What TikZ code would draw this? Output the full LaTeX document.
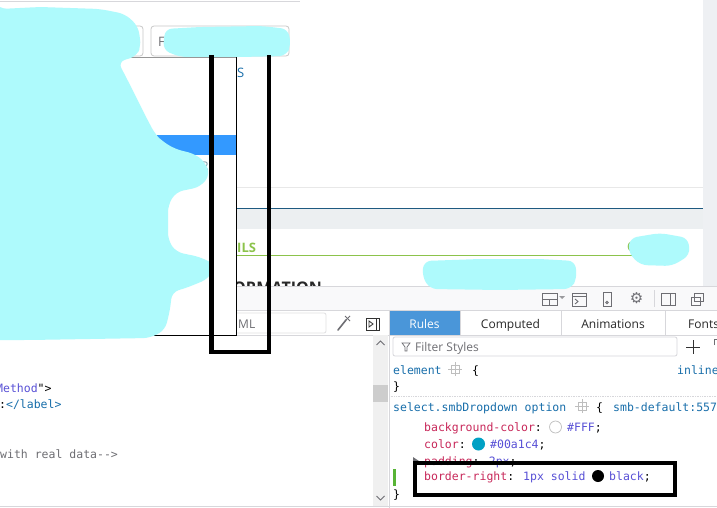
\documentclass[tikz,border=0pt]{standalone}
\usepackage{fontspec}
\setmainfont{Open Sans}
\newfontfamily\codefont{DejaVu Sans Mono}
\newfontfamily\symfont{DejaVu Sans}
\definecolor{cyanblot}{RGB}{174,250,252}
\definecolor{stripgray}{RGB}{238,240,243}
\definecolor{bandgray}{RGB}{236,239,241}
\definecolor{linegray}{RGB}{215,215,219}
\definecolor{faintline}{RGB}{232,232,232}
\definecolor{boxgray}{RGB}{200,200,200}
\definecolor{fieldgray}{RGB}{224,224,226}
\definecolor{listgray}{RGB}{150,150,150}
\definecolor{scrollbg}{RGB}{240,240,240}
\definecolor{thumb}{RGB}{205,205,205}
\definecolor{gearsq}{RGB}{190,190,190}
\definecolor{darkui}{RGB}{50,50,50}
\definecolor{tabtext}{RGB}{40,40,40}
\definecolor{rfaint}{RGB}{120,160,170}
\definecolor{darkblue}{RGB}{30,90,128}
\definecolor{pagegreen}{RGB}{140,195,75}
\definecolor{selblue}{RGB}{51,153,255}
\definecolor{tabblue}{RGB}{74,150,217}
\definecolor{propred}{RGB}{200,40,90}
\definecolor{valpurple}{RGB}{88,80,214}
\definecolor{selcol}{RGB}{24,110,170}
\definecolor{uigray}{RGB}{110,110,115}
\definecolor{toolbg}{RGB}{249,249,250}
\definecolor{swatch}{RGB}{0,161,196}
\definecolor{editgreen}{RGB}{88,180,54}
\tikzset{
  ui/.style={font=\fontsize{12}{14}\selectfont, inner sep=0pt, anchor=base west},
  code/.style={font=\codefont\fontsize{11.5}{13}\selectfont, inner sep=0pt, anchor=base west},
  hl/.style={line width=4.6pt, draw=black},
  icon/.style={draw=uigray, line width=0.9pt},
  blot/.style={fill=cyanblot, draw=none, rounded corners=7pt},
}
\begin{document}
\begin{tikzpicture}[x=1pt,y=-1pt]
\useasboundingbox (0,0) rectangle (717,508);
\fill[white] (0,0) rectangle (717,508);
% ---------- page ----------
\draw[draw=linegray, line width=0.8pt] (0,1) -- (300,1);
\fill[stripgray] (703,0) rectangle (717,286);
\draw[rounded corners=3pt, draw=boxgray, line width=0.8pt] (3,26) rectangle (143,56);
\draw[draw=uigray, line width=0.7pt] (134,42) -- (137,45) -- (140,42);
\draw[rounded corners=3pt, draw=boxgray, line width=0.8pt] (151,26) rectangle (289,56);
\node[ui, text=uigray, font=\fontsize{13}{15}\selectfont] (fchar) at (158,47) {F};
\node[ui, text=selcol, font=\fontsize{13}{15}\selectfont] (schar) at (237,78) {S};
\draw[draw=faintline, line width=0.8pt] (236,187) -- (703,187);
\fill[bandgray] (236,209) rectangle (703,229);
\draw[draw=darkblue, line width=1.2pt] (236,208.5) -- (703,208.5);
\node[ui, text=pagegreen, font=\bfseries\fontsize{13}{15}\selectfont] (ils) at (237,252) {ILS};
\draw[draw=pagegreen, line width=1pt] (236,255) -- (640,255);
\node[ui, text=pagegreen, font=\bfseries\fontsize{13}{15}\selectfont] (gchar) at (627,251) {C};
\node[ui, text=tabtext, font=\bfseries\fontsize{16}{18}\selectfont] (info) at (233,293) {ORMATION};
% ---------- devtools ----------
\fill[toolbg] (0,286) rectangle (717,310);
\draw[draw=linegray, line width=0.8pt] (0,286) -- (717,286);
\fill[white] (0,310) rectangle (717,508);
\draw[draw=linegray, line width=0.8pt] (0,310.5) -- (717,310.5);
\draw[draw=linegray, line width=0.8pt] (0,335) -- (717,335);
% toolbar icons
\draw[icon] (542,293) rectangle (557,305); \draw[icon] (542,299) -- (557,299); \draw[icon] (549.5,299) -- (549.5,305);
\fill[uigray!70] (559,296) -- (565,296) -- (562,299) -- cycle;
\draw[icon] (572,293) rectangle (586,306); \draw[icon] (572,296.5) -- (586,296.5); \draw[icon] (575,299) -- (578,301.5) -- (575,304);
\draw[icon] (603,292) rectangle (611,306); \draw[icon] (607,302.5) circle (1.2pt);
\node[inner sep=0pt, text=uigray, font=\symfont\fontsize{15}{15}\selectfont] (gear) at (636.5,298.5) {⚙};
\draw[draw=linegray, line width=0.8pt] (654,290) -- (654,307);
\draw[icon] (661,293) rectangle (675,305); \draw[icon] (670.5,293) -- (670.5,305);
\draw[icon] (691,297) rectangle (700,305); \draw[icon] (694,293) rectangle (703,301);
% search row
\draw[rounded corners=2pt, draw=fieldgray, line width=0.8pt] (200,313) rectangle (326,333);
\node[ui, text=uigray] (search) at (238,328) {ML};
\draw[draw=uigray, line width=1.6pt, line cap=round] (338,330) -- (346,320);
\draw[draw=uigray, line width=0.8pt] (345,316) -- (350,321); \draw[draw=uigray, line width=0.8pt] (350,316) -- (345,321);
\draw[icon, draw=darkui] (366,318) rectangle (379,330);
\draw[draw=darkui, line width=0.9pt] (376,318) -- (376,330);
\draw[draw=darkui, line width=0.8pt] (369,321) -- (373,324) -- (369,327) -- cycle;
% tabs
\fill[tabblue] (389,311) rectangle (460,335);
\node[ui, text=white, anchor=base] (rules) at (424.5,328) {Rules};
\draw[draw=linegray, line width=0.8pt] (460,311) -- (460,335);
\draw[draw=linegray, line width=0.8pt] (561,311) -- (561,335);
\draw[draw=linegray, line width=0.8pt] (665,311) -- (665,335);
\node[ui, text=tabtext, anchor=base] (computed) at (510.5,328) {Computed};
\node[ui, text=tabtext, anchor=base] (anim) at (613,328) {Animations};
\node[ui, text=tabtext] (fonts) at (688,328) {Fonts};
% splitter & scrollbar
\fill[scrollbg] (373,335) rectangle (388,506);
\fill[thumb] (373,385) rectangle (388,402);
\draw[draw=uigray, line width=0.9pt] (376.5,345) -- (380.5,341) -- (384.5,345);
\draw[draw=uigray, line width=0.9pt] (376.5,496) -- (380.5,500) -- (384.5,496);
\draw[draw=linegray, line width=0.8pt] (389,311) -- (389,508);
% left code
\node[code] (c1) at (-4,392) {\textcolor{valpurple}{Method}\textcolor{black}{">}};
\node[code] (c2) at (-1,408) {\textcolor{black}{:}\textcolor{selcol}{</label>}};
\node[code, text=uigray] (c3) at (0,458) {with real data-->};
% right rules
\draw[rounded corners=2pt, draw=linegray, line width=0.8pt] (393,337) rectangle (677,356);
\draw[draw=uigray, line width=0.7pt] (402,343) -- (410,343) -- (407,347) -- (407,351) -- (405,351) -- (405,347) -- cycle;
\node[ui, text=uigray] (filter) at (415,351.5) {Filter Styles};
\draw[draw=darkui, line width=0.9pt] (686,347) -- (700,347); \draw[draw=darkui, line width=0.9pt] (693,340) -- (693,354);
\draw[draw=uigray, line width=0.8pt] (714,345) -- (714,339) -- (720,339);
\node[code, text=selcol] (el) at (393,374) {element};
\draw[draw=gearsq, line width=0.8pt] (451,365) rectangle (459,373);
\draw[draw=gearsq, line width=0.8pt] (455,362) -- (455,376) (448,369) -- (462,369);
\node[code, text=black] (ob1) at (472,374) {\{};
\node[code, text=selcol] (inl) at (677,374) {inline};
\node[code, text=black] (cb1) at (393,390) {\}};
\draw[draw=linegray, line width=0.7pt, densely dotted] (389,396) -- (717,396);
\node[code, text=selcol] (sel) at (393,411) {select.smbDropdown option};
\draw[draw=gearsq, line width=0.8pt] (578,402) rectangle (586,410);
\draw[draw=gearsq, line width=0.8pt] (582,399) -- (582,413) (575,406) -- (589,406);
\node[code, text=black] (ob2) at (596,411) {\{};
\node[code, text=selcol] (smb) at (613,411) {smb-default:557};
\node[code] (bg) at (424,431) {\textcolor{propred}{background-color}\textcolor{black}{:}};
\draw[draw=gearsq, line width=0.7pt, fill=white] (555.5,427) circle (6);
\node[code, text=valpurple] (bgv) at (567,431) {\#FFF\textcolor{black}{;}};
\node[code] (col) at (424,448) {\textcolor{propred}{color}\textcolor{black}{:}};
\fill[swatch] (478.5,444) circle (6.5);
\node[code, text=valpurple] (colv) at (490,448) {\#00a1c4\textcolor{black}{;}};
\fill[uigray] (413,457) -- (419,461) -- (413,465) -- cycle;
\node[code] (pad) at (424,465) {\textcolor{propred}{padding}\textcolor{black}{: }\textcolor{valpurple}{2px}\textcolor{black}{;}};
\fill[editgreen] (393,469) rectangle (396,486);
\node[code] (br) at (424,480) {\textcolor{propred}{border-right}\textcolor{black}{:}};
\node[code, text=valpurple] (brv) at (523,480) {1px solid};
\fill[black] (598,476) circle (6);
\node[code, text=valpurple] (brv2) at (609,480) {black\textcolor{black}{;}};
\node[code, text=black] (cb2) at (393,498) {\}};
\draw[draw=linegray, line width=0.7pt] (0,506) -- (717,506);
% ---------- dropdown list ----------
\fill[white] (3,57) rectangle (236,335);
\fill[selblue] (157,135) rectangle (236,155);
\node[ui, text=rfaint] (rchar) at (201,170) {R};
\draw[draw=listgray, line width=0.8pt] (3,335) -- (3,57) -- (236,57);
\draw[draw=black, line width=1pt] (236,57) -- (236,335) -- (3,335);
% ---------- redaction blots ----------
\fill[blot] (-10,-2) -- (0,9) -- (40,7) -- (100,9) -- (125,14) -- (138,26) -- (141,45) -- (137,56) -- (118,62)
 -- (125,75) -- (135,95) -- (145,115) -- (155,134) -- (162,141) -- (175,149) -- (195,154) -- (205,162)
 -- (210,175) -- (200,187) -- (176,192) -- (168,205) -- (168,240) -- (176,252) -- (200,257) -- (216,265)
 -- (208,279) -- (186,288) -- (172,292) -- (170,310) -- (165,330) -- (150,338) -- (30,340) -- (-10,340) -- cycle;
\fill[blot] (165,29) -- (200,27) -- (262,26) -- (288,29) -- (291,45) -- (286,56) -- (240,57) -- (180,57) -- (163,50) -- cycle;
\fill[blot] (424,261) -- (480,259) -- (540,259) -- (575,261) -- (577,278) -- (571,289) -- (500,290) -- (430,289) -- (422,276) -- cycle;
\fill[blot] (630,238) -- (660,233) -- (688,238) -- (690,255) -- (672,266) -- (640,265) -- (628,252) -- cycle;
% ---------- annotations ----------
\coordinate (a1) at (211.5,55);
\coordinate (a2) at (211.5,352);
\coordinate (a3) at (269,352);
\coordinate (a4) at (269,55);
\draw[hl, line join=miter] (a1) -- (a2) -- (a3) -- (a4);
\coordinate (b1) at (415,463);
\coordinate (b2) at (675,495);
\draw[hl] (b1) rectangle (b2);
\end{tikzpicture}
\end{document}
